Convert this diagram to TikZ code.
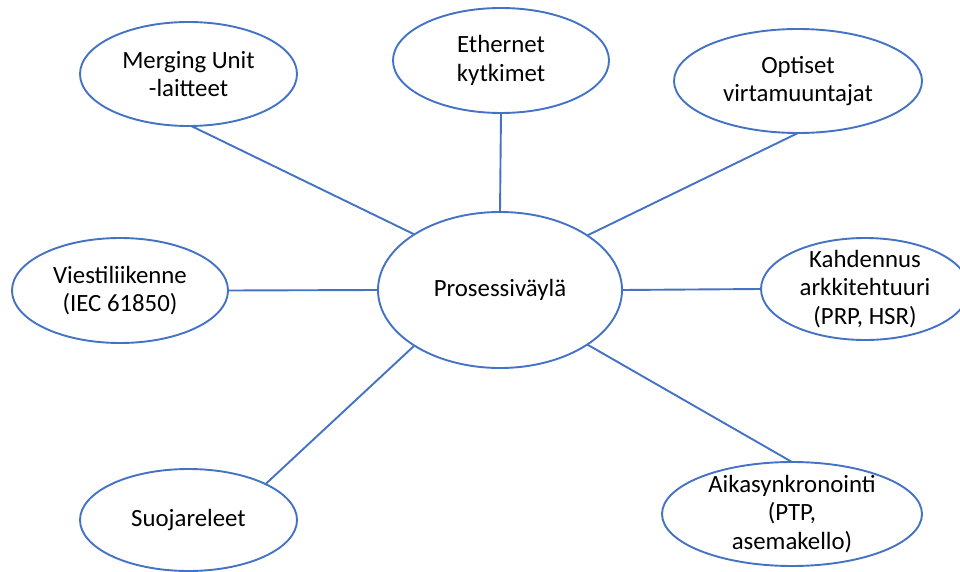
\documentclass[tikz,border=0pt]{standalone}
\usepackage{fontspec}
\setmainfont{Carlito}
\usetikzlibrary{shapes.geometric}
\definecolor{obl}{HTML}{4472C4}
\begin{document}
\begin{tikzpicture}[x=1pt,y=-1pt,
  bub/.style={ellipse, draw=obl, line width=1.9pt, fill=white, inner sep=-40pt, outer sep=0pt,
    align=center, font=\fontsize{24.8}{28.5}\selectfont, text=black},
  link/.style={draw=obl, line width=1.9pt}]
\useasboundingbox (0,0) rectangle (960,572);
\node[bub, minimum width=244pt, minimum height=156pt] (c) at (500,290) {Prosessiväylä};
\node[bub, minimum width=217pt, minimum height=104pt] (mu) at (188.5,74) {Merging Unit\\-laitteet};
\node[bub, minimum width=216pt, minimum height=105pt] (eth) at (501,60.5) {Ethernet\\kytkimet};
\node[bub, minimum width=248pt, minimum height=104pt] (opt) at (798,81) {Optiset\\virtamuuntajat};
\node[bub, minimum width=208pt, minimum height=102pt] (kah) at (865,289) {Kahdennus\\arkkitehtuuri\\(PRP, HSR)};
\node[bub, minimum width=260pt, minimum height=104pt] (aik) at (792,514) {Aikasynkronointi\\(PTP,\\asemakello)};
\node[bub, minimum width=216pt, minimum height=105pt] (vie) at (120,290.5) {Viestiliikenne\\(IEC 61850)};
\node[bub, minimum width=217pt, minimum height=102pt] (suo) at (188.5,520) {Suojareleet};
\draw[link] (mu.-87) -- (c.147);
\draw[link] (eth.south) -- (c.north);
\draw[link] (opt.south) -- (c.32.5);
\draw[link] (kah.west) -- (c.east);
\draw[link] (aik.north) -- (c.-32.5);
\draw[link] (vie.east) -- (c.west);
\draw[link] (suo.25) -- (c.213.5);
\end{tikzpicture}
\end{document}
